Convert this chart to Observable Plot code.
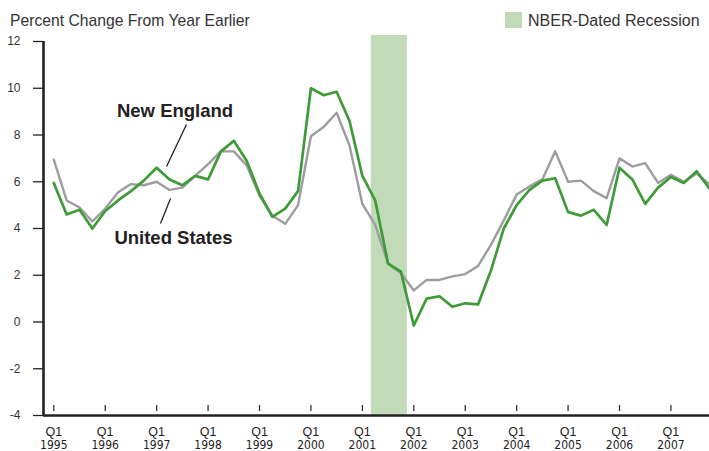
<!DOCTYPE html>
<html><head><meta charset="utf-8">
<script src="https://cdn.jsdelivr.net/npm/d3@7"></script>
<script src="https://cdn.jsdelivr.net/npm/@observablehq/plot@0.6"></script>
<style>
body{margin:0;background:#fff;}
#wrap{position:relative;width:709px;height:451px;font-family:"Liberation Sans",Arial,sans-serif;overflow:hidden;}
#title{position:absolute;left:10px;top:13px;font-size:15.7px;line-height:16px;color:#333;white-space:nowrap;}
#legend{position:absolute;left:505px;top:12px;height:16px;white-space:nowrap;}
#legend .sw{position:absolute;left:0;top:0;width:17px;height:16px;background:#c1dab8;}
#legend .lt{position:absolute;left:23px;top:1px;font-size:16px;line-height:16px;color:#333;}
</style></head><body>
<div id="wrap"><div id="chart"></div>
<div id="title">Percent Change From Year Earlier</div>
<div id="legend"><span class="sw"></span><span class="lt">NBER-Dated Recession</span></div>
</div>
<script>
// Years with Q1 labels on the x axis (quarterly data 1995Q1 .. 2007Q4)
const years = [1995,1996,1997,1998,1999,2000,2001,2002,2003,2004,2005,2006,2007];
const yTicks = [-4,-2,0,2,4,6,8,10,12];
// New England, percent change from year earlier, by quarter
const newEngland = [5.95,4.6,4.8,4.0, 4.75,5.2,5.6,6.05, 6.6,6.1,5.85,6.25, 6.1,7.3,7.75,6.9,
  5.5,4.5,4.85,5.6, 10.0,9.7,9.85,8.6, 6.25,5.2,2.5,2.15, -0.15,1.0,1.1,0.65,
  0.8,0.75,2.2,4.0, 5.0,5.65,6.05,6.15, 4.7,4.55,4.8,4.15, 6.6,6.1,5.05,5.75, 6.2,5.95,6.45,5.7];
// United States
const unitedStates = [6.95,5.2,4.9,4.3, 4.85,5.55,5.9,5.85, 6.0,5.65,5.75,6.25, 6.75,7.3,7.3,6.7,
  5.4,4.55,4.2,5.0, 7.95,8.35,8.95,7.55, 5.05,4.15,2.5,2.1, 1.35,1.8,1.8,1.95,
  2.05,2.4,3.3,4.35, 5.45,5.8,6.1,7.3, 6.0,6.05,5.6,5.3, 7.0,6.65,6.8,5.95, 6.3,6.0,6.35,5.9];
// NBER recession (Mar 2001 - Nov 2001) in quarter-index units from 1995Q1
const recessionStart = [24.7];
const recessionEnd = [27.5];
// Annotations (quarter index, value)
const labelText = ["New England","United States"];
const labelX = [9.43, 9.31];
const labelY = [9.02, 3.6];
const leaderX1 = [8.77, 9.08], leaderY1 = [6.65, 5.28];
const leaderX2 = [10.32, 8.3], leaderY2 = [8.45, 4.21];

const xDomain = [-0.8, 51];
const ne = newEngland.map((v,i)=>({i, v}));
const us = unitedStates.map((v,i)=>({i, v}));
const q1 = years.map((y,k)=>({i:k*4, year:String(y)}));
const rec = recessionStart.map((s,k)=>({start:s, end:recessionEnd[k]}));
const labels = labelText.map((t,k)=>({t, x:labelX[k], y:labelY[k]}));
const leaders = leaderX1.map((x,k)=>({x1:x, y1:leaderY1[k], x2:leaderX2[k], y2:leaderY2[k]}));

const chart = Plot.plot({
  width: 709, height: 451,
  marginLeft: 43, marginRight: 0, marginTop: 41, marginBottom: 36,
  x: {domain: xDomain, axis: null},
  y: {domain: [-4, 12], axis: null},
  style: {fontFamily: '"Liberation Sans", Arial, sans-serif', background: "#fff", overflow: "visible"},
  marks: [
    Plot.rect(rec, {x1: "start", x2: "end", fill: "#c1dab8", insetTop: -6}),
    Plot.axisY(yTicks, {tickSize: 10, tickPadding: 13, fontSize: 12, stroke: "#222", fill: "#333", strokeWidth: 1.3, tickFormat: d => String(d)}),
    Plot.ruleX([xDomain[0]], {stroke: "#222", strokeWidth: 2.6}),
    Plot.ruleY([-4], {stroke: "#222", strokeWidth: 2.6}),
    Plot.ruleX(q1, {x: "i", insetTop: 364, insetBottom: 4, stroke: "#333", strokeWidth: 1.3}),
    Plot.text(q1, {x: "i", text: () => "Q1", frameAnchor: "bottom", lineAnchor: "top", dy: 12, fontSize: 12.5, fill: "#222"}),
    Plot.text(q1, {x: "i", text: "year", frameAnchor: "bottom", lineAnchor: "top", dy: 25, fontSize: 12, fill: "#222", fontFamily: '"Liberation Sans Narrow", "DejaVu Sans Condensed", sans-serif'}),
    Plot.line(us, {x: "i", y: "v", stroke: "#9d9da0", strokeWidth: 2.4}),
    Plot.line(ne, {x: "i", y: "v", stroke: "#3f9a38", strokeWidth: 2.7}),
    Plot.link(leaders, {x1: "x1", y1: "y1", x2: "x2", y2: "y2", stroke: "#222", strokeWidth: 1.3}),
    Plot.text(labels, {x: "x", y: "y", text: "t", fontSize: 18.5, fontWeight: "bold", fill: "#222", lineAnchor: "middle", ariaLabel: "annot"})
  ]
});
d3.select(chart).selectAll('g[aria-label="annot"] text').style("letter-spacing", "1.5px");
document.getElementById("chart").appendChild(chart);
</script>
</body></html>
